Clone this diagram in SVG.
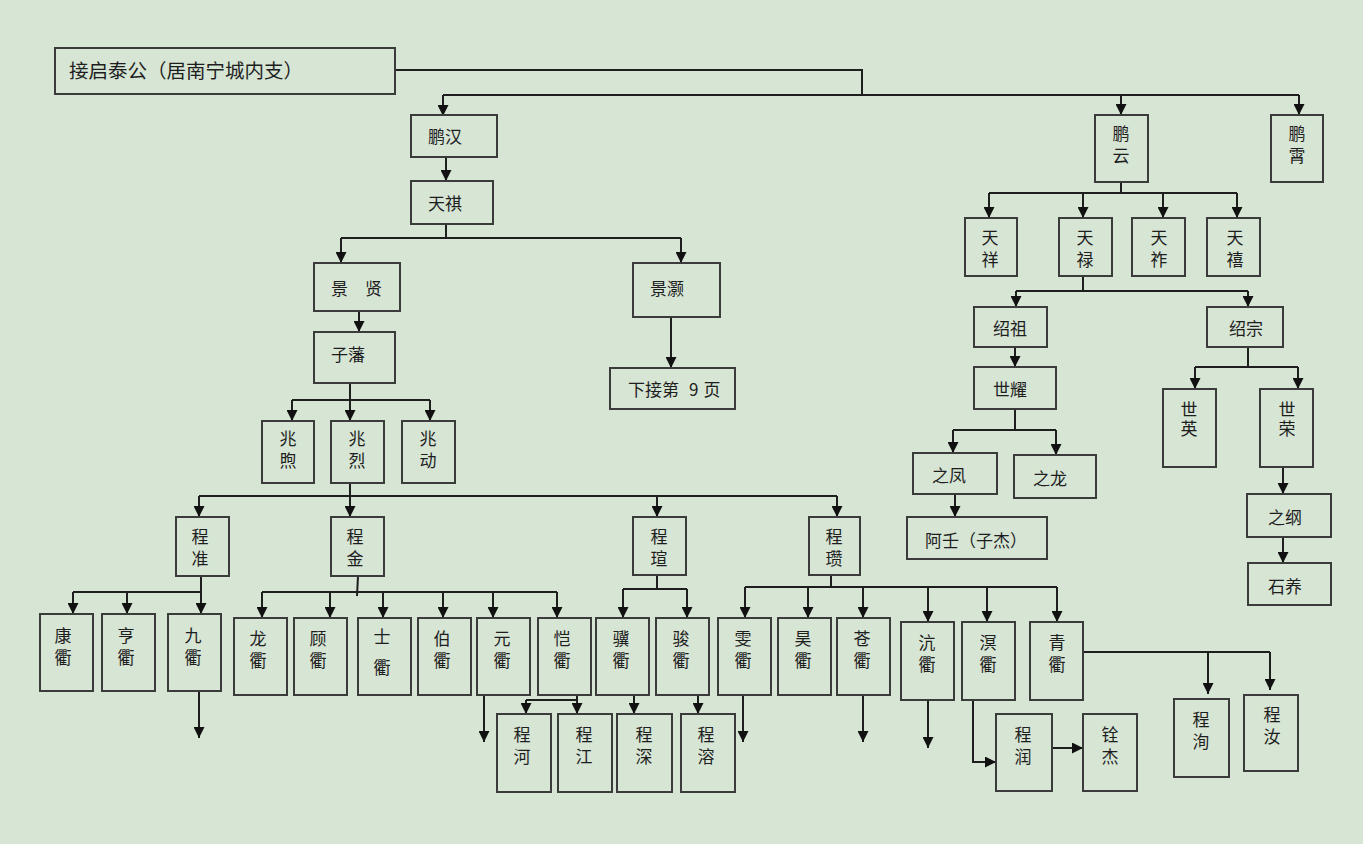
<svg xmlns="http://www.w3.org/2000/svg" width="1363" height="844" viewBox="0 0 1363 844">
<style>
.bg{fill:#d7e5d5}
rect.n{fill:none;stroke:#3b3b3b;stroke-width:2}
text{font-family:"Noto Sans CJK SC","Liberation Sans",sans-serif;font-size:17px;fill:#1e1e1e}
text.v{writing-mode:vertical-rl;letter-spacing:5px}
.c path{fill:none;stroke:#1e1e1e;stroke-width:2}
</style>
<defs>
<marker id="a" viewBox="0 0 10 10" refX="10" refY="5" markerWidth="11" markerHeight="11" markerUnits="userSpaceOnUse" orient="auto">
<path d="M0,0 L10,5 L0,10 z" fill="#111"/>
</marker>
</defs>
<rect class="bg" x="0" y="0" width="1363" height="844"/>

<g class="c">
<path d="M395,70 H862 V94"/>
<path d="M443,95 H1299"/>
<path d="M443,95 V116" marker-end="url(#a)"/>
<path d="M1121,95 V115" marker-end="url(#a)"/>
<path d="M1299,95 V115" marker-end="url(#a)"/>
<path d="M446,157 V181" marker-end="url(#a)"/>
<path d="M446,224 V238 M341,238 H681"/>
<path d="M341,238 V263" marker-end="url(#a)"/>
<path d="M681,238 V263" marker-end="url(#a)"/>
<path d="M671,318 V368" marker-end="url(#a)"/>
<path d="M359,311 V332" marker-end="url(#a)"/>
<path d="M350,383 V400 M292,400 H430"/>
<path d="M292,400 V421" marker-end="url(#a)"/>
<path d="M350,400 V421" marker-end="url(#a)"/>
<path d="M430,400 V421" marker-end="url(#a)"/>
<path d="M350,483 V496 M199,496 H837"/>
<path d="M199,496 V517" marker-end="url(#a)"/>
<path d="M350,496 V517" marker-end="url(#a)"/>
<path d="M657,496 V517" marker-end="url(#a)"/>
<path d="M837,496 V517" marker-end="url(#a)"/>
<path d="M201,576 V592 M73,592 H201"/>
<path d="M73,592 V614" marker-end="url(#a)"/>
<path d="M127,592 V614" marker-end="url(#a)"/>
<path d="M201,592 V614" marker-end="url(#a)"/>
<path d="M199,691 V738" marker-end="url(#a)"/>
<path d="M358,576 L357,596 M262,592 H557"/>
<path d="M262,592 V618" marker-end="url(#a)"/>
<path d="M330,592 V618" marker-end="url(#a)"/>
<path d="M383,592 V618" marker-end="url(#a)"/>
<path d="M443,592 V618" marker-end="url(#a)"/>
<path d="M493,592 V618" marker-end="url(#a)"/>
<path d="M557,592 V618" marker-end="url(#a)"/>
<path d="M657,575 V589 M623,589 H687"/>
<path d="M623,589 V618" marker-end="url(#a)"/>
<path d="M687,589 V618" marker-end="url(#a)"/>
<path d="M484,696 V742" marker-end="url(#a)"/>
<path d="M577,696 V700 M526,700 H577"/>
<path d="M526,700 V714" marker-end="url(#a)"/>
<path d="M577,700 V714" marker-end="url(#a)"/>
<path d="M634,696 V714" marker-end="url(#a)"/>
<path d="M698,696 V714" marker-end="url(#a)"/>
<path d="M743,696 V742" marker-end="url(#a)"/>
<path d="M831,575 V587 M745,587 H1057"/>
<path d="M745,587 V618" marker-end="url(#a)"/>
<path d="M808,587 V618" marker-end="url(#a)"/>
<path d="M863,587 V618" marker-end="url(#a)"/>
<path d="M928,587 V622" marker-end="url(#a)"/>
<path d="M987,587 V622" marker-end="url(#a)"/>
<path d="M1057,587 V622" marker-end="url(#a)"/>
<path d="M863,695 V742" marker-end="url(#a)"/>
<path d="M928,700 V748" marker-end="url(#a)"/>
<path d="M973,700 V762 H996" marker-end="url(#a)"/>
<path d="M1052,748 H1083" marker-end="url(#a)"/>
<path d="M1083,652 H1270"/>
<path d="M1208,652 V694" marker-end="url(#a)"/>
<path d="M1270,652 V690" marker-end="url(#a)"/>
<path d="M1121,182 V193 M989,193 H1237"/>
<path d="M989,193 V218" marker-end="url(#a)"/>
<path d="M1083,193 V218" marker-end="url(#a)"/>
<path d="M1163,193 V218" marker-end="url(#a)"/>
<path d="M1237,193 V218" marker-end="url(#a)"/>
<path d="M1083,276 V291 M1016,291 H1248"/>
<path d="M1016,291 V307" marker-end="url(#a)"/>
<path d="M1248,291 V307" marker-end="url(#a)"/>
<path d="M1015,347 V367" marker-end="url(#a)"/>
<path d="M1015,409 V430 M953,430 H1056"/>
<path d="M953,430 V453" marker-end="url(#a)"/>
<path d="M1056,430 V455" marker-end="url(#a)"/>
<path d="M955,494 V517" marker-end="url(#a)"/>
<path d="M1248,347 V367 M1195,367 H1298"/>
<path d="M1195,367 V389" marker-end="url(#a)"/>
<path d="M1298,367 V389" marker-end="url(#a)"/>
<path d="M1283,467 V494" marker-end="url(#a)"/>
<path d="M1283,537 V563" marker-end="url(#a)"/>
</g>

<g id="root"><rect class="n" x="55" y="48" width="340" height="46"/><text x="69" y="78" style="font-size:19.5px">接启泰公（居南宁城内支）</text></g>
<g id="penghan"><rect class="n" x="411" y="115" width="86" height="42"/><text x="428" y="143">鹏汉</text></g>
<g id="tianqi"><rect class="n" x="411" y="181" width="82" height="43"/><text x="428" y="210">天祺</text></g>
<g id="jingxian"><rect class="n" x="314" y="263" width="86" height="48"/><text x="331" y="295">景　贤</text></g>
<g id="jinghao"><rect class="n" x="633" y="263" width="87" height="54"/><text x="650" y="295">景灏</text></g>
<g id="xiajie"><rect class="n" x="610" y="368" width="125" height="41"/><text x="628" y="396">下接第<tspan dx="10">9</tspan><tspan dx="5">页</tspan></text></g>
<g id="zifan"><rect class="n" x="314" y="332" width="81" height="51"/><text x="331" y="361">子藩</text></g>

<g id="zhaoxu"><rect class="n" x="262" y="421" width="52" height="62"/><text class="v" x="288" y="430">兆煦</text></g>
<g id="zhaolie"><rect class="n" x="331" y="421" width="53" height="62"/><text class="v" x="357" y="430">兆烈</text></g>
<g id="zhaodong"><rect class="n" x="402" y="421" width="53" height="62"/><text class="v" x="428" y="430">兆动</text></g>

<g id="chengzhun"><rect class="n" x="176" y="517" width="53" height="59"/><text class="v" x="200" y="528">程准</text></g>
<g id="chengjin"><rect class="n" x="331" y="517" width="53" height="59"/><text class="v" x="355" y="528">程金</text></g>
<g id="chengxuan"><rect class="n" x="633" y="517" width="53" height="58"/><text class="v" x="659" y="528">程瑄</text></g>
<g id="chengzan"><rect class="n" x="809" y="517" width="51" height="58"/><text class="v" x="834" y="528">程瓒</text></g>

<g id="kangqu"><rect class="n" x="40" y="614" width="53" height="77"/><text class="v" x="63" y="627">康衢</text></g>
<g id="hengqu"><rect class="n" x="102" y="614" width="53" height="77"/><text class="v" x="126" y="627">亨衢</text></g>
<g id="jiuqu"><rect class="n" x="168" y="614" width="53" height="77"/><text class="v" x="193" y="627">九衢</text></g>

<g id="longqu"><rect class="n" x="234" y="618" width="53" height="77"/><text class="v" x="258" y="630">龙衢</text></g>
<g id="guqu"><rect class="n" x="294" y="618" width="53" height="77"/><text class="v" x="318" y="630">顾衢</text></g>
<g id="shiqu"><rect class="n" x="358" y="618" width="53" height="77"/><text class="v" x="382" y="628" style="letter-spacing:14px">士衢</text></g>
<g id="boqu"><rect class="n" x="418" y="618" width="53" height="77"/><text class="v" x="442" y="630">伯衢</text></g>
<g id="yuanqu"><rect class="n" x="477" y="618" width="53" height="77"/><text class="v" x="502" y="630">元衢</text></g>
<g id="kaiqu"><rect class="n" x="538" y="618" width="53" height="77"/><text class="v" x="562" y="630">恺衢</text></g>
<g id="jiqu"><rect class="n" x="596" y="618" width="53" height="77"/><text class="v" x="621" y="630">骥衢</text></g>
<g id="junqu"><rect class="n" x="656" y="618" width="53" height="77"/><text class="v" x="681" y="630">骏衢</text></g>
<g id="wenqu"><rect class="n" x="718" y="618" width="53" height="77"/><text class="v" x="743" y="630">雯衢</text></g>
<g id="haoqu"><rect class="n" x="778" y="618" width="53" height="77"/><text class="v" x="803" y="630">昊衢</text></g>
<g id="cangqu"><rect class="n" x="837" y="618" width="53" height="77"/><text class="v" x="862" y="630">苍衢</text></g>
<g id="hangqu"><rect class="n" x="901" y="622" width="53" height="78"/><text class="v" x="927" y="634">沆衢</text></g>
<g id="mingqu"><rect class="n" x="962" y="622" width="53" height="78"/><text class="v" x="988" y="634">溟衢</text></g>
<g id="qingqu"><rect class="n" x="1030" y="622" width="53" height="78"/><text class="v" x="1057" y="634">青衢</text></g>

<g id="chenghe"><rect class="n" x="497" y="714" width="54" height="78"/><text class="v" x="522" y="726">程河</text></g>
<g id="chengjiang"><rect class="n" x="558" y="714" width="54" height="78"/><text class="v" x="584" y="726">程江</text></g>
<g id="chengshen"><rect class="n" x="617" y="714" width="55" height="78"/><text class="v" x="644" y="726">程深</text></g>
<g id="chengrong"><rect class="n" x="681" y="714" width="54" height="78"/><text class="v" x="706" y="726">程溶</text></g>
<g id="chengrun"><rect class="n" x="996" y="714" width="56" height="77"/><text class="v" x="1023" y="726">程润</text></g>
<g id="quanjie"><rect class="n" x="1083" y="714" width="54" height="77"/><text class="v" x="1110" y="726">铨杰</text></g>
<g id="chengxun"><rect class="n" x="1174" y="699" width="55" height="78"/><text class="v" x="1201" y="711">程洵</text></g>
<g id="chengru"><rect class="n" x="1244" y="695" width="54" height="76"/><text class="v" x="1272" y="706">程汝</text></g>

<g id="pengyun"><rect class="n" x="1095" y="115" width="53" height="67"/><text class="v" x="1121" y="125">鹏云</text></g>
<g id="pengxiao"><rect class="n" x="1271" y="115" width="52" height="67"/><text class="v" x="1297" y="125">鹏霄</text></g>
<g id="tianxiang"><rect class="n" x="965" y="218" width="52" height="58"/><text class="v" x="990" y="229">天祥</text></g>
<g id="tianlu"><rect class="n" x="1059" y="218" width="53" height="58"/><text class="v" x="1085" y="229">天禄</text></g>
<g id="tianzuo"><rect class="n" x="1132" y="218" width="53" height="58"/><text class="v" x="1159" y="229">天祚</text></g>
<g id="tianxi"><rect class="n" x="1207" y="218" width="53" height="58"/><text class="v" x="1235" y="229">天禧</text></g>
<g id="shaozu"><rect class="n" x="974" y="307" width="73" height="40"/><text x="993" y="335">绍祖</text></g>
<g id="shaozong"><rect class="n" x="1207" y="307" width="76" height="40"/><text x="1229" y="335">绍宗</text></g>
<g id="shiyao"><rect class="n" x="974" y="367" width="82" height="42"/><text x="993" y="396">世耀</text></g>
<g id="zhifeng"><rect class="n" x="913" y="453" width="84" height="41"/><text x="932" y="482">之凤</text></g>
<g id="zhilong"><rect class="n" x="1014" y="455" width="82" height="43"/><text x="1033" y="485">之龙</text></g>
<g id="aren"><rect class="n" x="907" y="517" width="140" height="42"/><text x="925" y="547">阿壬（子杰）</text></g>
<g id="shiying"><rect class="n" x="1163" y="389" width="53" height="78"/><text class="v" x="1189" y="401" style="letter-spacing:2px">世英</text></g>
<g id="shirong"><rect class="n" x="1260" y="389" width="53" height="78"/><text class="v" x="1287" y="401" style="letter-spacing:2px">世荣</text></g>
<g id="zhigang"><rect class="n" x="1247" y="494" width="84" height="43"/><text x="1268" y="524">之纲</text></g>
<g id="shiyang"><rect class="n" x="1248" y="563" width="83" height="42"/><text x="1268" y="593">石养</text></g>
</svg>
